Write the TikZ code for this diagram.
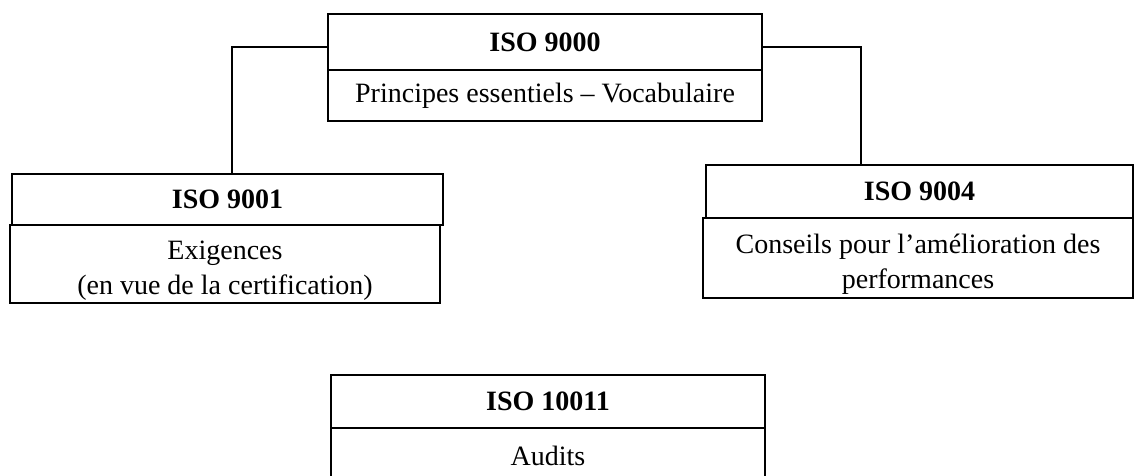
\documentclass[tikz,border=0pt]{standalone}
\usepackage{fontspec}
\setmainfont{Liberation Serif}
% a taller first line pushes a two-line text a little lower in its box
\newcommand{\topstrut}{\rule{0pt}{31pt}}
\begin{document}
\begin{tikzpicture}[x=1pt,y=-1pt,
  box/.style={draw, line width=1.6pt, inner sep=0pt, align=center,
    font=\fontsize{28}{35}\selectfont},
  head/.style={box, font=\fontsize{28}{35}\selectfont\bfseries},
  link/.style={line width=1.6pt}]
\clip (0,0) rectangle (1135,476);
\fill[white] (0,0) rectangle (1135,476);

% ISO 9000
\node[head, minimum width=434pt, minimum height=56pt] (h9000) at (545,42) {ISO 9000};
\node[box, minimum width=434pt, minimum height=51pt] (b9000) at (545,95.5)
  {Principes essentiels -- Vocabulaire};

% ISO 9001
\node[head, minimum width=431pt, minimum height=51pt] (h9001) at (227.5,199.5) {ISO 9001};
\node[box, minimum width=430pt, minimum height=78pt] (b9001) at (225,264)
  {\topstrut Exigences\\(en vue de la certification)};

% ISO 9004
\node[head, minimum width=427pt, minimum height=53pt] (h9004) at (919.5,191.5) {ISO 9004};
\node[box, minimum width=430pt, minimum height=80pt] (b9004) at (918,258)
  {\topstrut Conseils pour l’amélioration des\\performances};

% ISO 10011
\node[head, minimum width=434pt, minimum height=53pt] (h10011) at (548,401.5) {ISO 10011};
\node[box, minimum width=434pt, minimum height=56pt] (b10011) at (548,456) {Audits};

% connectors
\draw[link] ([yshift=-5pt]h9000.west) -| ([xshift=4.5pt]h9001.north);
\draw[link] ([yshift=-5pt]h9000.east) -| ([xshift=-58.5pt]h9004.north);
\end{tikzpicture}
\end{document}
